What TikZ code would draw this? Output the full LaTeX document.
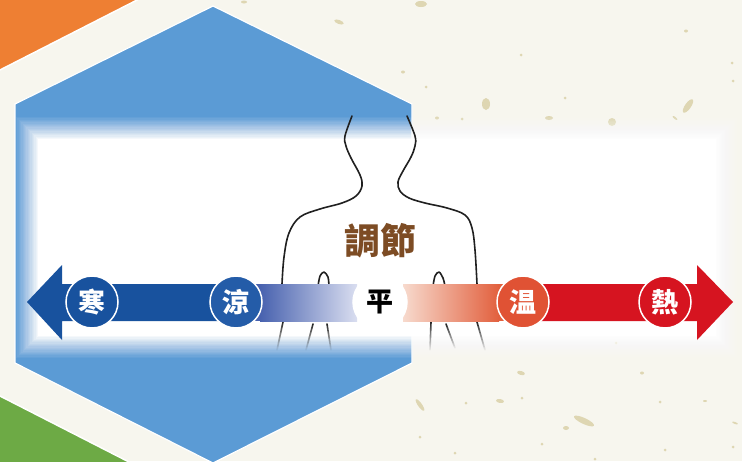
\documentclass[tikz,border=0pt]{standalone}
\usepackage{fontspec}
\newfontfamily\cjk{Noto Sans CJK TC}
\usetikzlibrary{fadings}
\definecolor{paper}{RGB}{247,246,238}
\definecolor{speckle}{RGB}{222,214,178}
\definecolor{corner}{RGB}{238,127,51}
\definecolor{leaf}{RGB}{109,170,69}
\definecolor{hexblue}{RGB}{91,155,213}
\definecolor{cold}{RGB}{24,82,158}
\definecolor{cool}{RGB}{36,92,168}
\definecolor{coolmid}{RGB}{72,98,175}
\definecolor{coolpale}{RGB}{218,222,240}
\definecolor{warmpale}{RGB}{247,218,205}
\definecolor{warmmid}{RGB}{226,96,62}
\definecolor{warm}{RGB}{224,82,52}
\definecolor{hot}{RGB}{214,20,32}
\definecolor{outline}{RGB}{32,32,32}
\definecolor{bark}{RGB}{125,76,36}
\begin{document}
\begin{tikzpicture}[x=1pt,y=-1pt,
  lbl/.style={circle,draw=white,line width=1.5pt,minimum size=52pt,inner sep=0pt,
    text=white,font=\cjk\bfseries\fontsize{27}{27}\selectfont},
  body/.style={draw=outline,line width=1.6pt,line cap=round,line join=round}]
  \useasboundingbox (0,0) rectangle (742,461);
  \fill[paper] (0,0) rectangle (742,461);
  \filldraw[corner,draw=white,line width=1.5pt] (-2,-2) -- (141,-2) -- (-2,71) -- cycle;
  \filldraw[leaf,draw=white,line width=1.5pt] (-2,395) -- (131,463) -- (-2,463) -- cycle;
  % specks on the paper
  \foreach \x/\y/\a/\b/\r in {421/4/6/3/0,486/104/4/6/0,612/122/4/4/0,688/106/3/8/-35,
      549/118/4/2/0,686/31/2/1.5/0,732/63/1.5/1.5/0,733/81/1.5/1.5/0,426/87/1.5/1.5/0,
      403/72/2/1.5/0,437/118/2/1.5/0,462/119/1.5/1.5/0,521/55/1.5/1.5/0,565/98/1.5/1.5/0,
      675/118/3/1/-40,339/22/5/2/-20,244/2/3/1.5/0,
      521/373/4/2/-15,500/401/4/2/-10,584/421/11/3/-25,566/428/3/2/0,522/398/1.5/1.5/0,
      642/373/2/1.5/0,660/402/1.5/1.5/0,705/401/2/1/0,420/405/2/7/35,420/437/1.5/1.5/0,
      616/343/1.5/1.5/0,665/450/1.5/1.5/0,735/423/3/1/-20,733/447/1.5/1.5/0,
      542/444/1.5/1.5/0,466/403/1.5/1.5/0,455/453/1.5/1.5/0,595/459/1.5/1.5/0}
    \fill[speckle] (\x,\y) ellipse [x radius=\a, y radius=\b, rotate=\r];
  \filldraw[hexblue,draw=white,line width=1.2pt]
    (213,6) -- (412,104) -- (412,363) -- (213,463) -- (15,363) -- (15,104) -- cycle;
  % white panel, soft edges built up layer by layer
  \foreach \i in {0,...,17}
    \fill[white,opacity={1/(18-\i)}] (16+1.3*\i,117+1.3*\i) rectangle (738-1.3*\i,358-1.3*\i);
  % figure
  \draw[body] plot[smooth,tension=0.6] coordinates {(352,116) (345,136) (346,146) (351,158)
    (360,175) (362,186) (356,196) (342,203) (320,209) (300,217) (289,233) (284,257) (282,284)};
  \draw[body] plot[smooth,tension=0.6] coordinates {(407,116) (415,136) (415,146) (411,157)
    (403,171) (398,182) (400,191) (409,198) (425,203) (447,208) (465,215) (472,228) (475,250) (477,284)};
  \draw[body] plot[smooth] coordinates {(318,286) (320,276) (324,272) (328,277) (329,286)};
  \draw[body] plot[smooth] coordinates {(433,286) (435,276) (439,272) (443,278) (445,286)};
  \draw[body,path fading=south] (283,322) -- (277,350);
  \draw[body,path fading=south] (313,324) -- (306,350);
  \draw[body,path fading=south] (327,324) -- (331,350);
  \draw[body,path fading=south] (431,322) -- (430,350);
  \draw[body,path fading=south] (446,324) -- (455,348);
  \draw[body,path fading=south] (477,322) -- (485,350);
  \node[text=bark,font=\cjk\bfseries\fontsize{36}{36}\selectfont] (tiaojie) at (380,241) {調節};
  % scale arrow
  \fill[cold] (27,302) -- (62,265) -- (62,284) -- (236,284) -- (236,321) -- (62,321) -- (62,340) -- cycle;
  \fill[coolmid] (236,284) rectangle (261,321);
  \shade[left color=coolmid,right color=coolpale] (260,284) rectangle (357,321);
  \shade[left color=warmpale,right color=warmmid] (403,284) rectangle (499,321);
  \fill[warmmid] (498,284) rectangle (523,321);
  \fill[hot] (733,302) -- (697,265) -- (697,284) -- (523,284) -- (523,321) -- (697,321) -- (697,340) -- cycle;
  \node[lbl,fill=cold] (han) at (92,302) {寒};
  \node[lbl,fill=cool] (liang) at (236,302) {涼};
  \node[lbl,fill=white,text=black,minimum size=54pt] (ping) at (380,302) {平};
  \node[lbl,fill=warm] (wen) at (523,302) {温};
  \node[lbl,fill=hot] (re) at (665,302) {熱};
\end{tikzpicture}
\end{document}
